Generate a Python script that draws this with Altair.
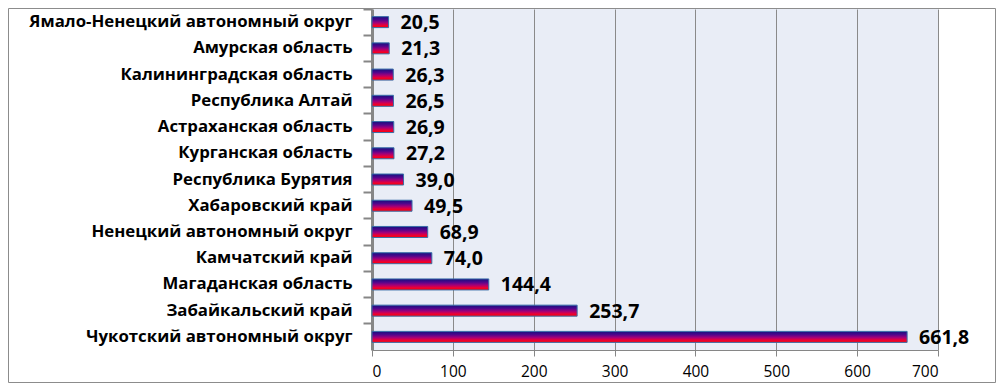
import altair as alt
import pandas as pd

regions = [
    "Ямало-Ненецкий автономный округ",
    "Амурская область",
    "Калининградская область",
    "Республика Алтай",
    "Астраханская область",
    "Курганская область",
    "Республика Бурятия",
    "Хабаровский край",
    "Ненецкий автономный округ",
    "Камчатский край",
    "Магаданская область",
    "Забайкальский край",
    "Чукотский автономный округ",
]
values = [20.5, 21.3, 26.3, 26.5, 26.9, 27.2, 39.0, 49.5, 68.9, 74.0, 144.4, 253.7, 661.8]
x_ticks = [0, 100, 200, 300, 400, 500, 600, 700]

df = pd.DataFrame({
    "region": regions,
    "value": values,
    "label": [f"{v:.1f}".replace(".", ",") for v in values],
})

W, H = 566, 341
PAD = {"left": 364, "top": 1, "right": 58, "bottom": 33}

gradient = alt.Gradient(
    gradient="linear",
    stops=[
        alt.GradientStop(color="#14107e", offset=0),
        alt.GradientStop(color="#50068c", offset=0.3),
        alt.GradientStop(color="#a0007a", offset=0.55),
        alt.GradientStop(color="#e8003a", offset=0.78),
        alt.GradientStop(color="#ff0000", offset=1),
    ],
    x1=0, x2=0, y1=0, y2=1,
)

base = alt.Chart(df).encode(
    y=alt.Y(
        "region:N",
        sort=regions,
        scale=alt.Scale(paddingInner=0, paddingOuter=0),
        axis=alt.Axis(
            title=None,
            domainColor="#868686",
            domainWidth=3,
            tickColor="#868686",
            tickWidth=2,
            tickSize=9,
            bandPosition=0,
            labelFont="Open Sans",
            labelFontWeight="bold",
            labelFontSize=16.8,
            labelColor="#000000",
            labelPadding=11,
            labelLimit=400,
        ),
    ),
    x=alt.X(
        "value:Q",
        scale=alt.Scale(domain=[0, 700], nice=False),
        axis=alt.Axis(
            title=None,
            values=x_ticks,
            domainColor="#868686",
            domainWidth=1,
            tickColor="#868686",
            tickSize=6,
            grid=True,
            gridColor="#8a8a8a",
            gridWidth=1,
            labelFont="Open Sans",
            labelFontSize=15.5,
            labelColor="#000000",
            labelPadding=8,
        ),
    ),
)

bars = base.mark_bar(size=11, fill=gradient, stroke="#3a6ea8", strokeWidth=1)
texts = base.mark_text(
    align="left", baseline="middle", dx=12, dy=1,
    font="Open Sans", fontSize=19.5, fontWeight="bold", color="#000000",
).encode(text="label:N")

frame_df = pd.DataFrame({"k": [0]})
frame = alt.Chart(frame_df).mark_rect(fill=None, stroke="#8c8c8c", strokeWidth=1).encode(
    x=alt.value(-PAD["left"] + 0.5),
    x2=alt.value(W + PAD["right"] - 0.5),
    y=alt.value(-PAD["top"] + 0.5),
    y2=alt.value(H + PAD["bottom"] - 0.5),
)

chart = alt.layer(bars, texts, frame).properties(
    width=W,
    height=H,
    autosize=alt.AutoSizeParams(type="none"),
    padding=PAD,
    background="#ffffff",
).configure_view(fill="#E9EDF6", stroke=None)

chart.save("out.html", embed_options={"renderer": "svg", "actions": False})
